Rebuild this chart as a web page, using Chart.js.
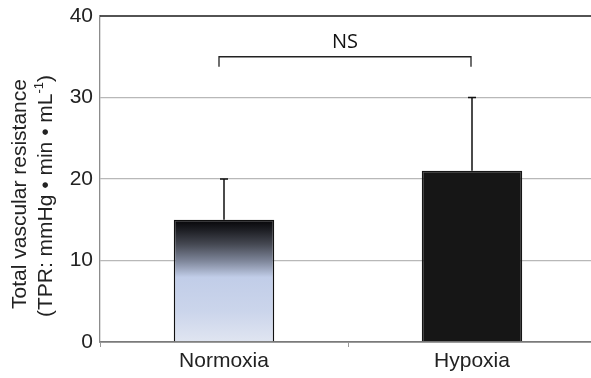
<!DOCTYPE html>
<html>
<head>
<meta charset="utf-8">
<script src="https://cdn.jsdelivr.net/npm/chart.js@4/dist/chart.umd.min.js"></script>
<style>
  html, body { margin: 0; padding: 0; background: #fff; }
  #wrap { width: 591px; height: 378px; overflow: hidden; }
</style>
</head>
<body>
<div id="wrap"><canvas id="tprChart" width="596" height="378"></canvas></div>
<script>
// data
const groups = ['Normoxia', 'Hypoxia'];
const tprMean = [15, 21];
const tprErr = [5, 9];
const yTicks = [0, 10, 20, 30, 40];
const sigLabel = 'NS';
const sigLevel = 35;

const FONT = '"Liberation Sans", Arial, sans-serif';
const ctx = document.getElementById('tprChart').getContext('2d');

// gradient fill for the normoxia bar (black at top -> pale blue)
function barFill(context) {
    if (context.dataIndex === 1) return '#161616';
    const chart = context.chart;
    const y = chart.scales.y;
    if (!chart.chartArea || !y) return '#c3d0ea';
    const top = y.getPixelForValue(tprMean[0]);
    const bot = y.getPixelForValue(0);
    const g = chart.ctx.createLinearGradient(0, top, 0, bot);
    g.addColorStop(0, '#050507');
    g.addColorStop(0.08, '#1c1d22');
    g.addColorStop(0.2, '#454852');
    g.addColorStop(0.34, '#7f879b');
    g.addColorStop(0.47, '#c1cde8');
    g.addColorStop(0.75, '#cbd5eb');
    g.addColorStop(1, '#e0e5f1');
    return g;
}

// error bars (upper only)
const errorBars = {
    id: 'errorBars',
    afterDatasetsDraw(chart) {
        const c = chart.ctx;
        const meta = chart.getDatasetMeta(0);
        const y = chart.scales.y;
        c.save();
        c.strokeStyle = '#111';
        c.lineWidth = 1.5;
        meta.data.forEach((bar, i) => {
            const x = Math.round(bar.x);
            const y0 = y.getPixelForValue(tprMean[i]);
            const y1 = y.getPixelForValue(tprMean[i] + tprErr[i]);
            c.beginPath();
            c.moveTo(x, y0);
            c.lineTo(x, y1);
            c.moveTo(x - 4, y1);
            c.lineTo(x + 4, y1);
            c.stroke();
        });
        c.restore();
    }
};

// significance bracket + top frame line
const bracket = {
    id: 'bracket',
    afterDraw(chart) {
        const c = chart.ctx;
        const meta = chart.getDatasetMeta(0);
        const y = chart.scales.y;
        const area = chart.chartArea;
        c.save();
        c.strokeStyle = '#1a1a1a';
        c.lineWidth = 1.6;
        c.beginPath();
        c.moveTo(area.left, area.top);
        c.lineTo(area.right, area.top);
        c.stroke();

        const x1 = Math.round(meta.data[0].x - 5.5);
        const x2 = Math.round(meta.data[1].x - 1.5);
        const yb = y.getPixelForValue(sigLevel);
        c.strokeStyle = '#222';
        c.lineWidth = 1.3;
        c.beginPath();
        c.moveTo(x1, yb + 10);
        c.lineTo(x1, yb);
        c.lineTo(x2, yb);
        c.lineTo(x2, yb + 10);
        c.stroke();
        c.fillStyle = '#111';
        c.font = '20px "Open Sans", "Liberation Sans", sans-serif';
        c.textAlign = 'center';
        c.textBaseline = 'alphabetic';
        c.fillText(sigLabel, (x1 + x2) / 2, yb - 9);
        c.restore();
    }
};

// two-line rotated y title with superscript
const yTitle = {
    id: 'yTitle',
    afterDraw(chart) {
        const c = chart.ctx;
        const cy = 196;
        const big = '21px ' + FONT;
        const small = '13px ' + FONT;
        c.save();
        c.fillStyle = '#222';
        c.font = big;
        c.textBaseline = 'alphabetic';
        c.translate(0, cy);
        c.rotate(-Math.PI / 2);
        c.textAlign = 'center';
        c.fillText('Total vascular resistance', 2, 26);
        const main = '(TPR: mmHg \u2022 min \u2022 mL';
        const sup = '-1';
        const close = ')';
        const wMain = c.measureText(main).width;
        const wClose = c.measureText(close).width;
        c.font = small;
        const wSup = c.measureText(sup).width;
        let x = -(wMain + wSup + wClose) / 2;
        c.textAlign = 'left';
        c.font = big;
        c.fillText(main, x, 52);
        x += wMain;
        c.font = small;
        c.fillText(sup, x, 43);
        x += wSup;
        c.font = big;
        c.fillText(close, x, 52);
        c.restore();
    }
};

new Chart(ctx, {
    type: 'bar',
    data: {
        labels: groups,
        datasets: [{
            data: tprMean,
            backgroundColor: barFill,
            borderColor: ['#111', '#161616'],
            borderWidth: 1.5,
            borderSkipped: 'bottom',
            categoryPercentage: 1,
            barPercentage: 0.405
        }]
    },
    options: {
        responsive: false,
        animation: false,
        layout: { padding: { top: 0, right: 0, left: 0, bottom: 0 } },
        plugins: {
            legend: { display: false },
            tooltip: { enabled: false }
        },
        scales: {
            x: {
                offset: true,
                afterFit(axis) { axis.height = 36; },
                grid: {
                    offset: true,
                    drawOnChartArea: false,
                    drawTicks: true,
                    tickLength: 5,
                    color: '#999'
                },
                border: { color: '#7a7a7a', width: 1.8 },
                ticks: {
                    color: '#222',
                    padding: 2,
                    font: { family: FONT, size: 21 }
                }
            },
            y: {
                min: 0,
                max: 40,
                afterBuildTicks(axis) {
                    axis.ticks = yTicks.map(v => ({ value: v }));
                },
                afterFit(axis) {
                    axis.width = 100;
                    axis.paddingTop = 16;
                },
                grid: {
                    color: (c) => (c.tick && (c.tick.value === 0 || c.tick.value === 40)) ? 'rgba(0,0,0,0)' : '#b8b8b8',
                    lineWidth: 1.3,
                    drawTicks: false
                },
                border: { color: '#8c8c8c', width: 1.3 },
                ticks: {
                    color: '#222',
                    padding: 7,
                    font: { family: FONT, size: 21 }
                }
            }
        }
    },
    plugins: [errorBars, bracket, yTitle]
});
</script>
</body>
</html>
